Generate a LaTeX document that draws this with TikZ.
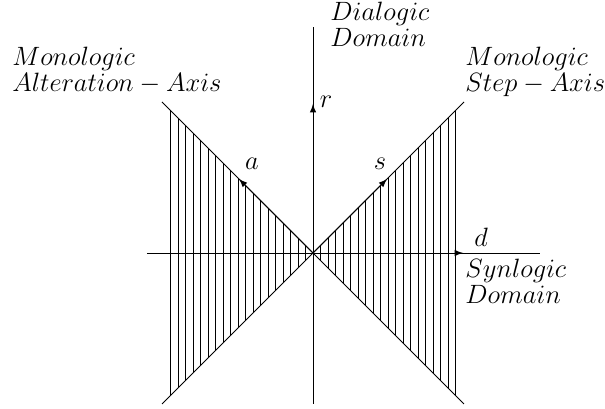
\documentclass[tikz,border=0pt]{standalone}
\begin{document}
\begin{tikzpicture}[x=0.48pt,y=0.48pt,
  font=\fontsize{12}{11.7}\selectfont,
  txt/.style={inner sep=0pt, scale=1.06, transform shape},
  lbl/.style={txt, align=left, anchor=north west},
  vec/.style={-latex},
  tag/.style={txt}]
\useasboundingbox (-313,-156) rectangle (292,253);
\coordinate (O) at (0,0);
\coordinate (xl) at (-166,0);
\coordinate (xr) at (227,0);
\coordinate (yb) at (0,-151);
\coordinate (yt) at (0,226);
\coordinate (ul) at (-151,151);
\coordinate (lr) at (151,-151);
\coordinate (ll) at (-151,-151);
\coordinate (ur) at (151,151);
\coordinate (ta) at (-74,74);
\coordinate (ts) at (74,74);
\coordinate (tr) at (0,149);
\coordinate (td) at (150,0);
% hatching
\foreach \k in {1,...,19} {
  \draw (7.5*\k,-7.5*\k) -- (7.5*\k,7.5*\k);
  \draw (-7.5*\k,-7.5*\k) -- (-7.5*\k,7.5*\k);
}
\draw (xl) -- (xr);
\draw (yb) -- (yt);
\draw (ul) -- (lr);
\draw (ll) -- (ur);
\draw[vec] (O) -- (ta);
\draw[vec] (O) -- (ts);
\draw[vec] (O) -- (tr);
\draw[vec] (O) -- (td);
\node[tag] (la) at (-61,89) {$a$};
\node[tag] (ls) at (67,89) {$s$};
\node[tag] (lr) at (13,151) {$r$};
\node[tag] (ld) at (168,16) {$d$};
\node[lbl] (dial) at (17,251) {$Dialogic$\\$Domain$};
\node[lbl] (malt) at (-301,206) {$Monologic$\\$Alteration-Axis$};
\node[lbl] (mstep) at (152,206) {$Monologic$\\$Step-Axis$};
\node[lbl] (syn) at (152,-6) {$Synlogic$\\$Domain$};
\end{tikzpicture}
\end{document}
